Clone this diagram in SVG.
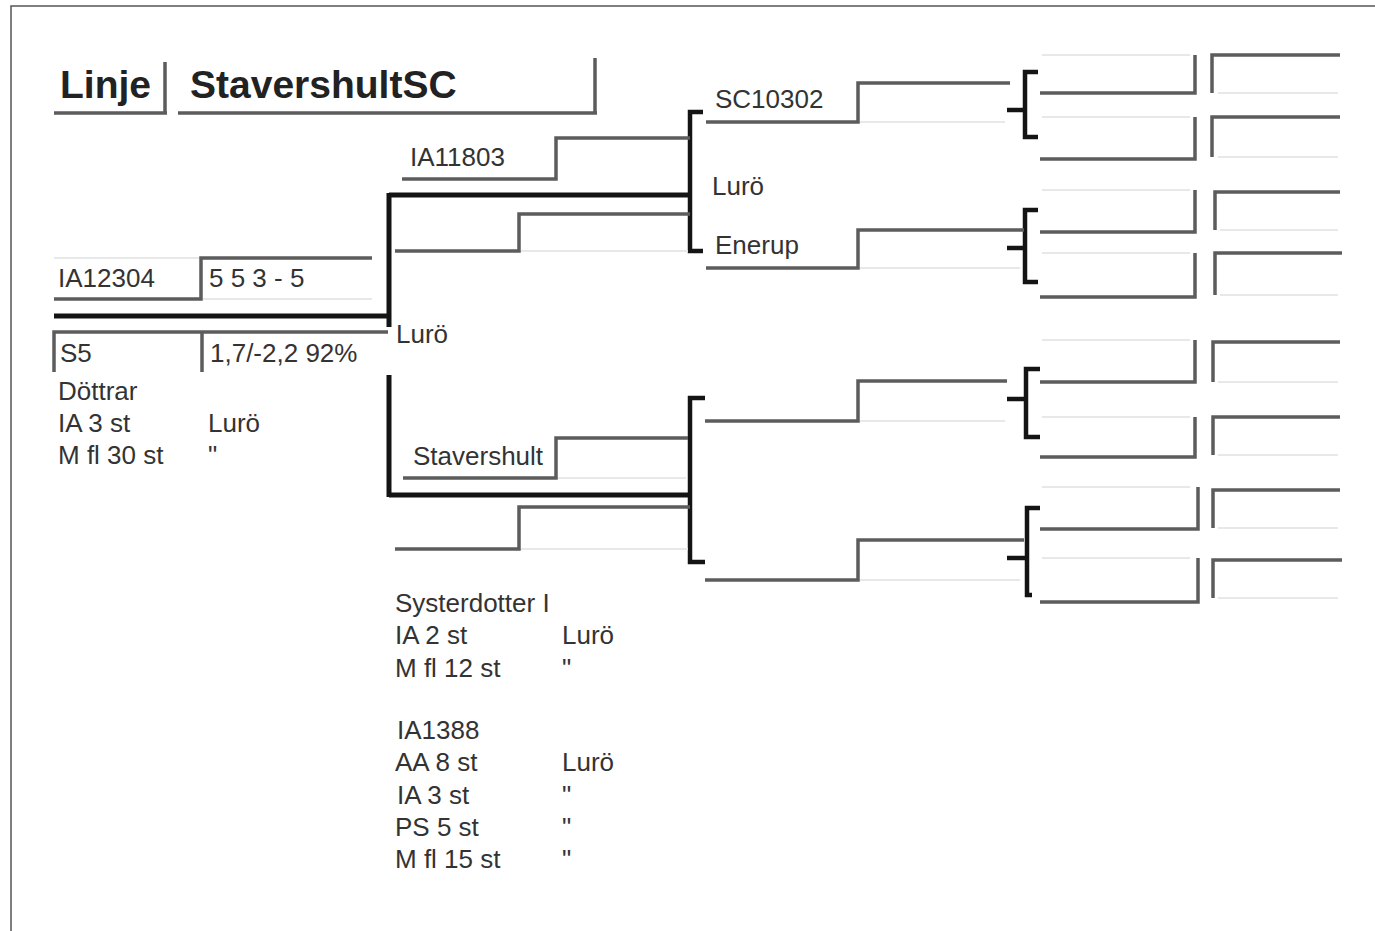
<svg xmlns="http://www.w3.org/2000/svg" width="1375" height="931" viewBox="0 0 1375 931">
<style>
.g{stroke:#5c5c5c;stroke-width:3.5;fill:none}
.k{stroke:#141414;stroke-width:5;fill:none}
.b{stroke:#141414;stroke-width:4.5;fill:none}
.l{stroke:#e8e8e8;stroke-width:2;fill:none}
.fr{stroke:#555;stroke-width:1.5;fill:none}
text{font-family:"Liberation Sans",Arial,sans-serif;font-size:26px;fill:#333}
.h{font-weight:bold;font-size:39px;fill:#222}
</style>
<rect width="1375" height="931" fill="#fff"/>
<path class="fr" d="M11 931 V6 H1375"/>

<g id="hdr-linje"><path class="g" d="M54 113 H167 M165 62 V113"/><text class="h" x="60" y="98">Linje</text></g>
<g id="hdr-name"><path class="g" d="M178 113 H597 M595 58 V113"/><text class="h" x="190" y="98">StavershultSC</text></g>

<g id="connectors">
<path class="k" d="M54 316 H389 M389 193 V327 M389 375 V497 M389 195 H690 M389 495 H690"/>
<path class="b" d="M703 112 H690 V251 H703"/>
<path class="b" d="M705 398 H690 V562 H705"/>
<path class="b" d="M1038 72 H1025 V137 H1038 M1007 110 H1025"/>
<path class="b" d="M1038 210 H1025 V282 H1038 M1007 248 H1025"/>
<path class="b" d="M1040 369 H1026 V437 H1040 M1007 399 H1026"/>
<path class="b" d="M1040 508 H1027 V595 H1032 M1007 558 H1027"/>
</g>

<g id="node-ia12304">
<path class="l" d="M54 258 H200 M202 299 H372"/>
<path class="g" d="M54 299 H201 V258 H372"/>
<path class="g" d="M54 372 V332 H388 M202 332 V372"/>
<text x="58" y="287">IA12304</text>
<text x="209" y="287">5 5 3 - 5</text>
<text x="60" y="362">S5</text>
<text x="210" y="362">1,7/-2,2 92%</text>
<text x="58" y="400">Döttrar</text>
<text x="58" y="432">IA 3 st</text>
<text x="208" y="432">Lurö</text>
<text x="58" y="464">M fl 30 st</text>
<text x="208" y="464">"</text>
</g>

<g id="label-luro-1"><text x="396" y="343">Lurö</text></g>

<g id="node-ia11803"><path class="g" d="M402 179 H556 V138 H690"/><text x="410" y="166">IA11803</text></g>
<g id="node-p2"><path class="l" d="M519 251 H688"/><path class="g" d="M395 251 H519 V214 H690"/></g>

<g id="node-sc10302"><path class="l" d="M858 122 H1005"/><path class="g" d="M706 122 H858 V83 H1010"/><text x="715" y="108">SC10302</text></g>
<g id="label-luro-2"><text x="712" y="195">Lurö</text></g>
<g id="node-enerup"><path class="l" d="M858 268 H1020"/><path class="g" d="M706 268 H858 V230 H1024"/><text x="715" y="254">Enerup</text></g>

<g id="col4-upper">
<path class="l" d="M1042 55 H1190 M1042 117 H1190 M1042 190 H1190 M1042 253 H1190"/>
<path class="g" d="M1040 93 H1195 V55"/>
<path class="g" d="M1040 159 H1195 V117"/>
<path class="g" d="M1040 232 H1195 V190"/>
<path class="g" d="M1040 297 H1195 V253"/>
</g>
<g id="col5-upper">
<path class="l" d="M1218 93 H1338 M1218 157 H1338 M1220 230 H1338 M1220 295 H1338"/>
<path class="g" d="M1212 93 V55 H1340"/>
<path class="g" d="M1212 157 V117 H1340"/>
<path class="g" d="M1215 230 V192 H1340"/>
<path class="g" d="M1215 295 V253 H1342"/>
</g>

<g id="node-stavershult"><path class="l" d="M556 478 H686"/><path class="g" d="M403 478 H556 V438 H688"/><text x="413" y="465">Stavershult</text></g>
<g id="node-p4"><path class="l" d="M519 549 H688"/><path class="g" d="M395 549 H519 V507 H690"/></g>

<g id="node-p5"><path class="l" d="M858 421 H1005"/><path class="g" d="M705 421 H858 V381 H1007"/></g>
<g id="node-p6"><path class="l" d="M858 580 H1020"/><path class="g" d="M705 580 H858 V540 H1024"/></g>

<g id="col4-lower">
<path class="l" d="M1042 340 H1190 M1042 417 H1190 M1042 487 H1190 M1042 558 H1190"/>
<path class="g" d="M1040 382 H1195 V340"/>
<path class="g" d="M1040 457 H1195 V417"/>
<path class="g" d="M1040 529 H1198 V487"/>
<path class="g" d="M1040 602 H1198 V558"/>
</g>
<g id="col5-lower">
<path class="l" d="M1218 382 H1338 M1218 455 H1338 M1218 528 H1338 M1218 598 H1338"/>
<path class="g" d="M1213 382 V342 H1340"/>
<path class="g" d="M1213 455 V417 H1340"/>
<path class="g" d="M1213 528 V490 H1340"/>
<path class="g" d="M1213 598 V560 H1342"/>
</g>

<g id="notes-lower">
<text x="395" y="612">Systerdotter I</text>
<text x="395" y="644">IA 2 st</text>
<text x="562" y="644">Lurö</text>
<text x="395" y="677">M fl 12 st</text>
<text x="562" y="677">"</text>
<text x="397" y="739">IA1388</text>
<text x="395" y="771">AA 8 st</text>
<text x="562" y="771">Lurö</text>
<text x="397" y="804">IA 3 st</text>
<text x="562" y="804">"</text>
<text x="395" y="836">PS 5 st</text>
<text x="562" y="836">"</text>
<text x="395" y="868">M fl 15 st</text>
<text x="562" y="868">"</text>
</g>
</svg>
